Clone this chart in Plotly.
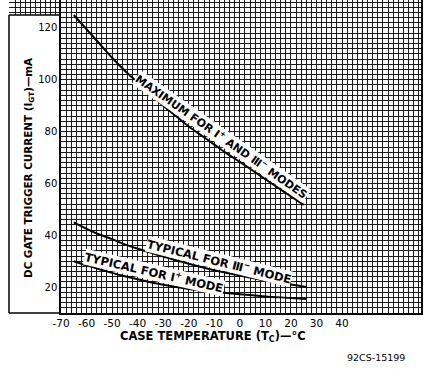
import plotly.graph_objects as go

# ---- data ----
temp_max = [-65, -60, -55, -50, -45, -40, -35, -30, -25, -20, -15, -10, -5, 0, 5, 10, 15, 20, 25]
igt_max = [125, 119.5, 114, 108.5, 103.5, 99, 94.5, 90, 86, 82, 78.5, 75, 71.5, 68.3, 65, 61.6, 58.3, 55, 51.7]

temp_t3 = [-65, -60, -55, -50, -45, -40, -35, -30, -20, -10, 0, 10, 20, 26]
igt_t3 = [45, 42.5, 40.3, 38.5, 36.5, 34.8, 33.3, 31.8, 29, 26.5, 24.5, 22.5, 21, 20]

temp_t1 = [-65, -60, -55, -50, -45, -40, -35, -30, -20, -10, 0, 10, 20, 26]
igt_t1 = [30, 28.4, 26.9, 25.5, 24.2, 23, 21.9, 20.9, 19.3, 18.2, 17.2, 16.4, 15.8, 15.4]

x_major = [-70, -60, -50, -40, -30, -20, -10, 0, 10, 20, 30, 40, 50, 60, 70]
x_labels = ["-70", "-60", "-50", "-40", "-30", "-20", "-10", "0", "10", "20", "30", "40", "", "", ""]
y_major = [10, 20, 30, 40, 50, 60, 70, 80, 90, 100, 110, 120, 130]
y_labels = ["", "20", "", "40", "", "60", "", "80", "", "100", "", "120", ""]

W, H = 429, 369
FONT = "DejaVu Sans"
GRID = "#1a1a1a"

fig = go.Figure()
for xs, ys in [(temp_max, igt_max), (temp_t3, igt_t3), (temp_t1, igt_t1)]:
    fig.add_trace(go.Scatter(x=xs, y=ys, mode="lines", line=dict(color="black", width=2, shape="spline"),
                             showlegend=False, hoverinfo="skip"))

# invisible trace for the small top-left grid strip
fig.add_trace(go.Scatter(x=[-80], y=[128], xaxis="x2", yaxis="y2", mode="markers",
                         marker=dict(opacity=0), showlegend=False, hoverinfo="skip"))

px = lambda v: v / W
py = lambda v: 1 - v / H

axis_common = dict(showgrid=True, gridcolor=GRID, gridwidth=1.4, zeroline=False,
                   showline=True, linecolor="black", linewidth=1.5, mirror=True,
                   ticks="", fixedrange=True, automargin=False)

fig.update_layout(
    template="none",
    width=W, height=H, autosize=False,
    margin=dict(l=0, r=0, t=0, b=0, pad=0),
    paper_bgcolor="white", plot_bgcolor="white",
    font=dict(family=FONT, color="black"),
    xaxis=dict(domain=[px(61), px(421)], range=[-70, 70.9], tickmode="array",
               tickvals=x_major, ticktext=x_labels, tickfont=dict(size=10.5),
               minor=dict(dtick=2, tick0=-70, showgrid=True, gridcolor=GRID, gridwidth=1),
               **axis_common),
    yaxis=dict(domain=[py(313), 1], range=[10, 130.8], tickmode="array",
               tickvals=y_major, ticktext=y_labels, tickfont=dict(size=10),
               minor=dict(dtick=2, tick0=10, showgrid=True, gridcolor=GRID, gridwidth=1),
               **axis_common),
    xaxis2=dict(domain=[px(9), px(61)], range=[-90.35, -70], anchor="y2",
                showticklabels=False, ticks="", showgrid=True, gridcolor=GRID, gridwidth=1,
                dtick=2, tick0=-70, zeroline=False, showline=False, fixedrange=True, automargin=False),
    yaxis2=dict(domain=[py(15), 1], range=[125.0, 130.8], anchor="x2",
                showticklabels=False, ticks="", showgrid=True, gridcolor=GRID, gridwidth=1,
                dtick=2, tick0=10, zeroline=False, showline=False, fixedrange=True, automargin=False),
)

# left label box border
fig.add_shape(type="line", xref="paper", yref="paper", x0=px(9), x1=px(9), y0=py(313), y1=py(15),
              line=dict(color="black", width=1.5))
fig.add_shape(type="line", xref="paper", yref="paper", x0=px(9), x1=px(61), y0=py(313), y1=py(313),
              line=dict(color="black", width=1.5))
fig.add_shape(type="line", xref="paper", yref="paper", x0=px(9), x1=px(61), y0=py(15), y1=py(15),
              line=dict(color="black", width=1.5))

C = dict(xanchor="center", yanchor="middle", showarrow=False)
LBL = dict(size=11.5, family=FONT, weight="bold")

# curve labels
fig.add_annotation(x=-7.3, y=78.0, text="MAXIMUM FOR Ⅰ<sup>+</sup> AND Ⅲ<sup>−</sup> MODES",
                   textangle=35, bgcolor="white", borderpad=0,
                   font=dict(size=11, family=FONT, weight="bold"), **C)
fig.add_annotation(x=-8.2, y=29.9, text="TYPICAL FOR Ⅲ<sup>−</sup> MODE",
                   textangle=14, bgcolor="white", borderpad=0, font=LBL, **C)
fig.add_annotation(x=-33.6, y=25.5, text="TYPICAL FOR Ⅰ<sup>+</sup> MODE",
                   textangle=13, bgcolor="white", borderpad=0, font=LBL, **C)

# axis titles
fig.add_annotation(xref="paper", yref="paper", x=px(29), y=py(168),
                   text="DC GATE TRIGGER CURRENT (I<sub>GT</sub>)—mA", textangle=-90,
                   font=dict(size=10.4, family=FONT, weight="bold"), **C)
fig.add_annotation(xref="paper", yref="paper", x=px(213), y=py(336),
                   text="CASE TEMPERATURE (T<sub>C</sub>)—°C",
                   font=dict(size=11.5, family=FONT, weight="bold"), **C)
fig.add_annotation(xref="paper", yref="paper", x=px(376), y=py(357),
                   text="92CS-15199", font=dict(size=9.5, family=FONT), **C)

fig.write_html("out.html", config={"displayModeBar": False},
               post_script="document.body.style.margin='0';")
